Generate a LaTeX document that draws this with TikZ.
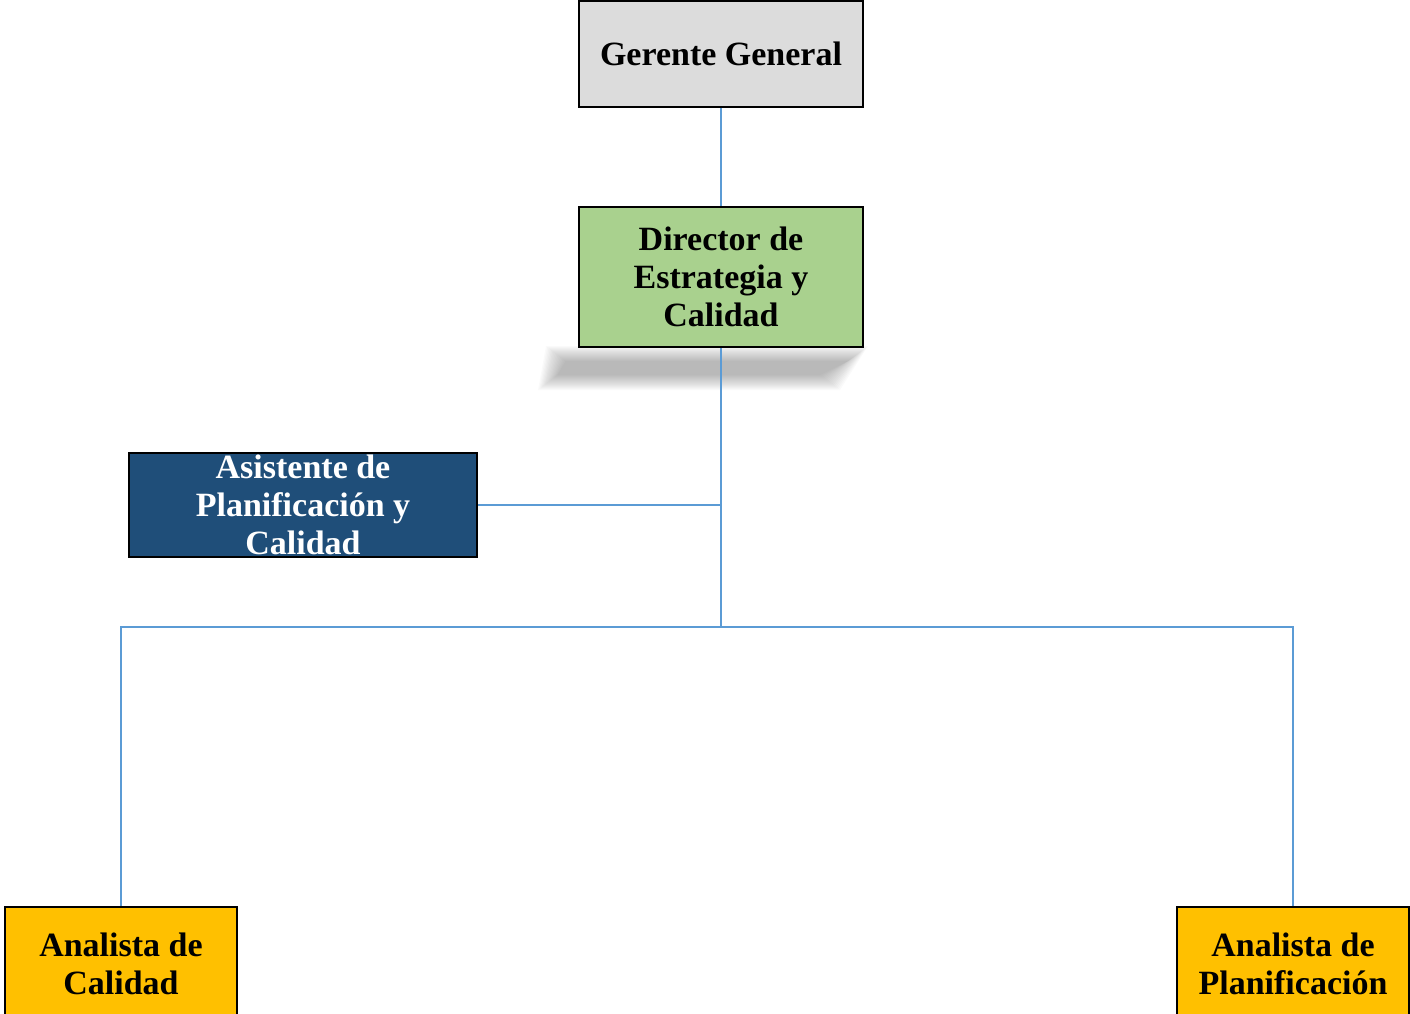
\documentclass[tikz,border=0pt]{standalone}
\usepackage{fontspec}
\setmainfont{Liberation Serif}
\definecolor{linkblue}{HTML}{5B9BD5}
\definecolor{boxgray}{HTML}{DCDCDC}
\definecolor{boxgreen}{HTML}{A9D18E}
\definecolor{boxnavy}{HTML}{1F4E79}
\definecolor{boxgold}{HTML}{FFC000}
\tikzset{
    org box/.style={draw=black, line width=2pt, align=center, inner sep=0pt,
        font=\fontsize{34}{38}\selectfont\bfseries},
    link/.style={draw=linkblue, line width=1.5pt},
}

\begin{document}
\begin{tikzpicture}[x=1pt, y=-1pt]

    \def\boxw{284}

    \useasboundingbox (0,0) rectangle (1410,1014);
    \clip (0,0) rectangle (1410,1014);

    % soft shadow under the director box
    \foreach \i in {0,...,15}
        \fill[black, opacity=0.018]
            (546+1.3*\i,346+\i) -- (868-1.3*\i,346+\i) -- (840-1.3*\i,390-\i) -- (538+1.3*\i,390-\i) -- cycle;

    \node[org box, fill=boxgray, minimum width=\boxw, minimum height=106] (G) at (721,54) {Gerente General};
    \node[org box, fill=boxgreen, minimum width=\boxw, minimum height=140] (D) at (721,277) {Director de\\Estrategia y\\Calidad};
    \node[org box, fill=boxnavy, text=white, minimum width=348, minimum height=104] (A) at (303,505) {Asistente de\\Planificación y\\Calidad};
    \node[org box, fill=boxgold, minimum width=232, minimum height=114] (AC) at (121,964) {Analista de\\Calidad};
    \node[org box, fill=boxgold, minimum width=232, minimum height=114] (AP) at (1293,964) {Analista de\\Planificación};

    \coordinate (J1) at (D.south |- A.east);
    \coordinate (J2) at (721,627);

    \draw[link] (G.south) -- (D.south |- D.north);
    \draw[link] (D.south) -- (J2);
    \draw[link] (A.east) -- (J1);
    \draw[link] (AC.north) |- (J2) -| (AP.north);

\end{tikzpicture}
\end{document}
